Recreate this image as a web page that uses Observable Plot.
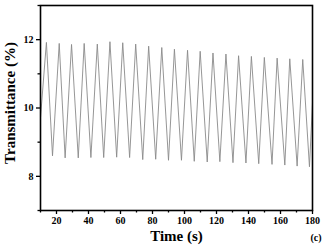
<!DOCTYPE html>
<html><head>
<meta charset="utf-8">
<script src="https://cdn.jsdelivr.net/npm/d3@7"></script>
<script src="https://cdn.jsdelivr.net/npm/@observablehq/plot@0.6"></script>
<style>body{margin:0;background:#fff}</style>
</head><body><div id="chart"></div>
<script>
const startPoint = [10, 9.72];
const endPoint = [180, 10.15];
const peakTimes = [13.7, 21.7, 29.4, 37.3, 45.5, 53.4, 61.4, 69.5, 77.6, 85.8, 93.7, 101.9, 109.8, 117.8, 125.9, 133.8, 141.8, 149.9, 157.9, 165.8, 173.9];
const peakValues = [11.92, 11.89, 11.86, 11.89, 11.87, 11.94, 11.91, 11.87, 11.81, 11.77, 11.72, 11.69, 11.66, 11.61, 11.58, 11.53, 11.51, 11.48, 11.46, 11.44, 11.42];
const valleyTimes = [17.5, 25.4, 33.6, 41.5, 49.5, 57.6, 65.7, 73.9, 82.0, 90.0, 98.1, 106.1, 114.2, 122.1, 130.3, 138.4, 146.4, 154.7, 162.7, 170.4, 178.1];
const valleyValues = [8.60, 8.54, 8.54, 8.55, 8.55, 8.56, 8.55, 8.49, 8.50, 8.47, 8.47, 8.44, 8.42, 8.43, 8.40, 8.39, 8.37, 8.35, 8.33, 8.30, 8.28];
const xTicks = [20, 40, 60, 80, 100, 120, 140, 160, 180];
const xMinor = [10, 30, 50, 70, 90, 110, 130, 150, 170];
const yTicks = [8, 10, 12];
const yMinor = [7, 9, 11, 13];

const series = [{t: startPoint[0], v: startPoint[1]}];
peakTimes.forEach((t, i) => {
  series.push({t, v: peakValues[i]});
  series.push({t: valleyTimes[i], v: valleyValues[i]});
});
series.push({t: endPoint[0], v: endPoint[1]});

const font = "'Liberation Serif', 'Times New Roman', serif";
const chart = Plot.plot({
  width: 324,
  height: 250,
  marginLeft: 40,
  marginRight: 12,
  marginTop: 5,
  marginBottom: 40,
  style: {fontFamily: font, fontWeight: "bold", fontSize: "10px", color: "#000", background: "#fff"},
  x: {domain: [10, 180]},
  y: {domain: [7, 13]},
  marks: [
    Plot.line(series, {x: "t", y: "v", stroke: "#8a8a8a", strokeWidth: 0.9}),
    Plot.frame({stroke: "#000", strokeWidth: 1.6}),
    Plot.axisX({ticks: xTicks, tickSize: 4, tickPadding: 2, tickFormat: d => String(d), label: null, strokeWidth: 1.3}),
    Plot.axisX({ticks: xMinor, tickSize: 2.5, text: null, label: null, strokeWidth: 1.3}),
    Plot.axisY({ticks: yTicks, tickSize: 4, tickPadding: 3, tickFormat: d => String(d), label: null, strokeWidth: 1.3}),
    Plot.axisY({ticks: yMinor, tickSize: 2.5, text: null, label: null, strokeWidth: 1.3}),
    Plot.text(["Time (s)"], {frameAnchor: "bottom", dy: 30, fontSize: 15, fontWeight: "bold"}),
    Plot.text(["Transmittance (%)"], {frameAnchor: "left", textAnchor: "middle", dx: -30, dy: -5, rotate: -90, fontSize: 15, fontWeight: "bold"}),
    Plot.text(["(c)"], {frameAnchor: "bottom-right", dx: 9, dy: 30, fontSize: 10, fontWeight: "bold"})
  ]
});
document.getElementById("chart").appendChild(chart);
</script>
</body></html>
